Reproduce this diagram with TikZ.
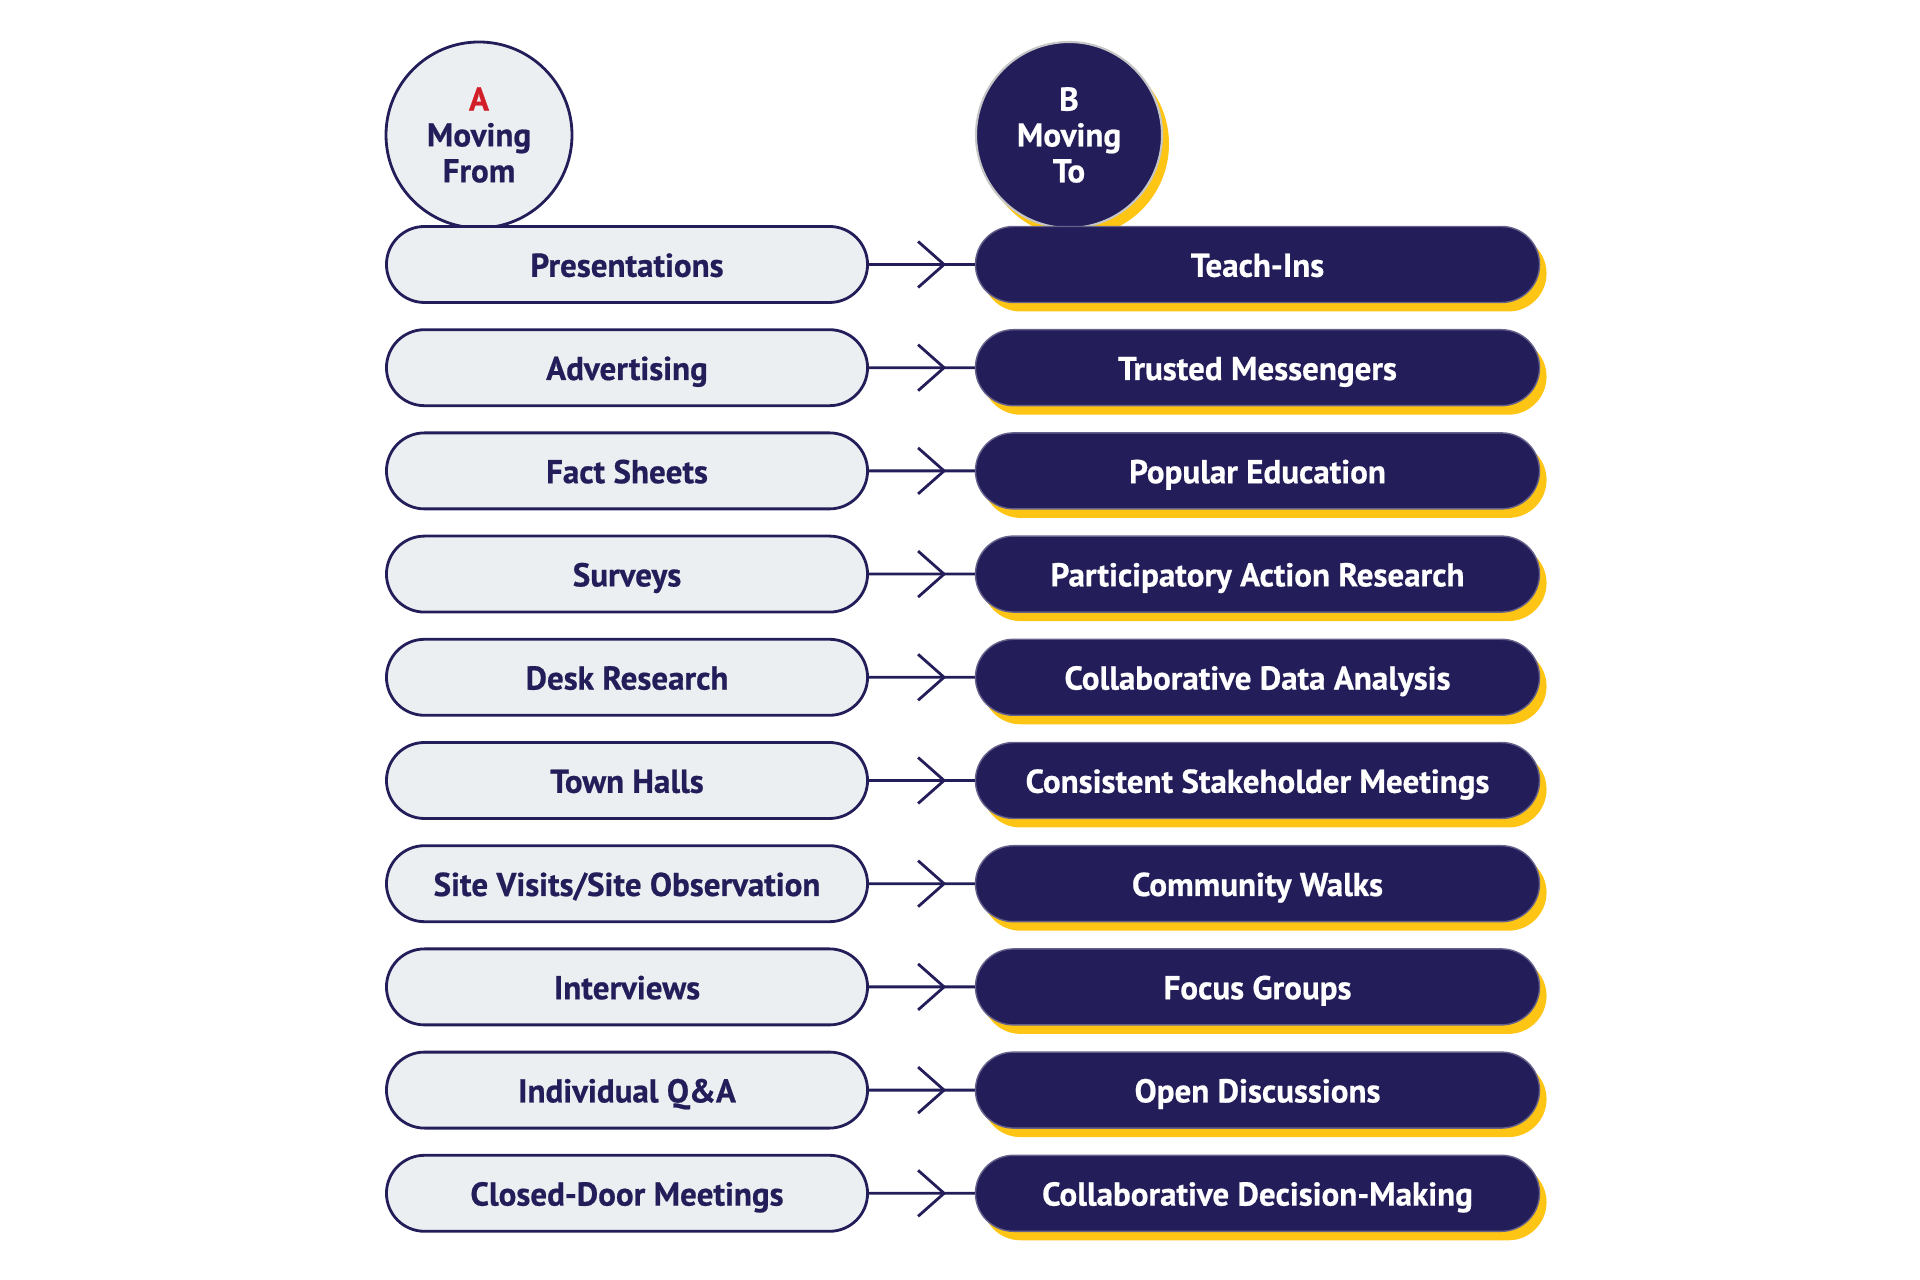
\documentclass[tikz,border=0pt]{standalone}
\usepackage{fontspec}
\setmainfont{PT Sans}[BoldFeatures={FakeBold=0.6}]
\usetikzlibrary{shapes.misc,shadows,arrows.meta,decorations.markings}
\definecolor{navy}{RGB}{35,30,90}
\definecolor{gold}{RGB}{255,197,20}
\definecolor{pale}{RGB}{236,239,241}
\definecolor{redA}{RGB}{210,30,40}
\begin{document}
\begin{tikzpicture}[every node/.style={font=\bfseries\fontsize{9.4}{10.2}\selectfont},
                    oldbox/.style={rounded rectangle, draw=navy, line width=0.8pt, fill=pale,
                                   text=navy, minimum width=5.045cm, minimum height=0.76cm,
                                   text height=1.4ex, text depth=0pt},
                    newbox/.style={rounded rectangle, draw=navy!70!white, line width=0.4pt, fill=navy,
                                   text=white, minimum width=5.875cm, minimum height=0.76cm,
                                   text height=1.4ex, text depth=0pt,
                                   drop shadow={shadow xshift=0.07cm, shadow yshift=-0.09cm,
                                                fill=gold, opacity=1}},
                    link/.style={draw=navy, line width=0.8pt, postaction={decorate},
                                 decoration={markings, mark=at position 0.73 with
                                 {\arrow{Straight Barb[length=0.26cm, width=0.46cm, line width=0.8pt]}}}}]
\useasboundingbox (0,0) rectangle (19.2,-12.8);
% headings
\node[circle, draw=navy, line width=0.8pt, fill=pale, text=navy, minimum size=1.86cm, align=center]
  (ha) at (4.79,-1.35) {\textcolor{redA}{A}\\Moving\\From};
\node[circle, draw=gray!45, line width=0.6pt, fill=navy, text=white, minimum size=1.86cm, align=center,
      drop shadow={shadow xshift=0.07cm, shadow yshift=-0.09cm, fill=gold, opacity=1}]
  (hb) at (10.69,-1.35) {B\\Moving\\To};
% moving from
\node[oldbox] (a1) at (6.27,-2.645) {Presentations};
\node[oldbox] (a2) at (6.27,-3.677) {Advertising};
\node[oldbox] (a3) at (6.27,-4.709) {Fact Sheets};
\node[oldbox] (a4) at (6.27,-5.741) {Surveys};
\node[oldbox] (a5) at (6.27,-6.773) {Desk Research};
\node[oldbox] (a6) at (6.27,-7.805) {Town Halls};
\node[oldbox] (a7) at (6.27,-8.837) {Site Visits/Site Observation};
\node[oldbox] (a8) at (6.27,-9.869) {Interviews};
\node[oldbox] (a9) at (6.27,-10.901) {Individual Q\&A};
\node[oldbox] (a10) at (6.27,-11.933) {Closed-Door Meetings};
% moving to
\node[newbox] (b1) at (12.575,-2.645) {Teach-Ins};
\node[newbox] (b2) at (12.575,-3.677) {Trusted Messengers};
\node[newbox] (b3) at (12.575,-4.709) {Popular Education};
\node[newbox] (b4) at (12.575,-5.741) {Participatory Action Research};
\node[newbox] (b5) at (12.575,-6.773) {Collaborative Data Analysis};
\node[newbox] (b6) at (12.575,-7.805) {Consistent Stakeholder Meetings};
\node[newbox] (b7) at (12.575,-8.837) {Community Walks};
\node[newbox] (b8) at (12.575,-9.869) {Focus Groups};
\node[newbox] (b9) at (12.575,-10.901) {Open Discussions};
\node[newbox] (b10) at (12.575,-11.933) {Collaborative Decision-Making};
% arrows
\draw[link] (a1) -- (b1);
\draw[link] (a2) -- (b2);
\draw[link] (a3) -- (b3);
\draw[link] (a4) -- (b4);
\draw[link] (a5) -- (b5);
\draw[link] (a6) -- (b6);
\draw[link] (a7) -- (b7);
\draw[link] (a8) -- (b8);
\draw[link] (a9) -- (b9);
\draw[link] (a10) -- (b10);
\end{tikzpicture}
\end{document}
